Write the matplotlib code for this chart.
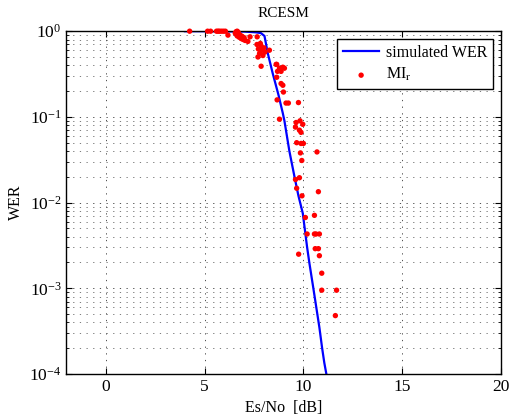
import numpy as np
import matplotlib
matplotlib.use("Agg")
import matplotlib.pyplot as plt

plt.rcParams['font.family'] = ['Liberation Serif', 'DejaVu Serif']
plt.rcParams['mathtext.fontset'] = 'stix'
plt.rcParams['font.size'] = 11.5

# Simulated word error rate
sim_snr = [4.0, 5.0, 6.0, 7.0, 7.6, 7.85, 8.03, 8.2, 8.45, 8.74, 8.96, 9.04,
           9.29, 9.55, 9.75, 9.97, 10.19, 10.3, 10.52, 10.81, 10.95, 11.06, 11.2]
sim_wer = [1.0, 0.999, 0.995, 0.99, 0.97, 0.95, 0.88, 0.55, 0.32, 0.18, 0.11, 0.09,
           0.04, 0.02, 0.012, 0.0075, 0.003, 0.002, 0.00095, 0.00035, 0.0002,
           0.000135, 0.00009]

# WER predicted from mutual information
mi_snr = [4.24, 5.15, 5.3, 5.6, 5.68, 5.75, 5.85, 5.95, 6.05, 6.65,
          6.18, 6.55, 6.6, 6.65, 6.7, 6.75, 6.8, 6.85, 6.9, 6.95, 7.0, 7.05,
          6.7, 6.6, 7.19, 7.3, 7.66,
          7.65, 7.72, 7.78, 7.85, 7.9, 7.95, 8.0, 7.7, 7.82, 8.05, 8.28, 7.86,
          8.62, 8.65, 8.79, 8.96, 9.04, 8.69, 8.87, 8.65, 8.87, 8.96, 8.99,
          8.67, 9.12, 9.24, 9.75, 8.79,
          9.63, 9.83, 9.97, 9.6, 9.8, 9.88, 9.66, 9.88, 10.0, 10.69, 9.85,
          9.92, 9.8, 9.6, 9.66, 10.76, 9.93, 10.1, 10.56, 10.19, 10.56,
          10.64, 10.81, 10.6, 10.76, 9.76, 10.81, 10.93, 10.93, 11.68, 11.62]
mi_wer = [1.0, 1.0, 1.0, 1.0, 1.0, 1.0, 1.0, 1.0, 1.0, 1.0,
          0.90, 0.95, 0.92, 0.88, 0.93, 0.85, 0.90, 0.82, 0.87, 0.80, 0.84, 0.78,
          0.97, 0.99, 0.76, 0.86, 0.86,
          0.70, 0.62, 0.55, 0.68, 0.60, 0.52, 0.64, 0.50, 0.72, 0.57, 0.60, 0.39,
          0.41, 0.41, 0.37, 0.38, 0.37, 0.34, 0.34, 0.29, 0.245, 0.234, 0.195,
          0.158, 0.145, 0.145, 0.147, 0.094,
          0.086, 0.090, 0.082, 0.076, 0.070, 0.066, 0.050, 0.049, 0.049, 0.039, 0.038,
          0.031, 0.0195, 0.0186, 0.0147, 0.0134, 0.012, 0.0067, 0.0071, 0.0043, 0.0043,
          0.0043, 0.0043, 0.0029, 0.0029, 0.0025, 0.0024, 0.0015, 0.00095, 0.00095, 0.00048]

fig = plt.figure(figsize=(5.19, 4.16), dpi=100)
ax = fig.add_axes([0.128, 0.101, 0.837, 0.824])

ax.semilogy(sim_snr, sim_wer, color='#0000ff', lw=1.6, label='simulated WER')
ax.scatter(mi_snr, mi_wer, s=15, color='#ff0000', edgecolors='none',
           clip_on=False, zorder=3, label=r'MI$_\mathrm{r}$')

ax.set_xlim(-2, 20)
ax.set_ylim(1e-4, 1)
ax.set_xticks([0, 5, 10, 15, 20])
ax.set_yticks([1e-4, 1e-3, 1e-2, 1e-1, 1])

ax.grid(True, which='major', linestyle=(0, (1.5, 6.5)), color='0.2', lw=0.6)
ax.grid(True, which='minor', axis='y', linestyle=(0, (1.5, 6.5)), color='0.4', lw=0.6)
ax.tick_params(which='both', direction='in', top=True, right=True, labelsize=12.5)
ax.tick_params(which='major', length=4)
ax.tick_params(which='minor', length=2)
for sp in ax.spines.values():
    sp.set_linewidth(1.0)

ax.set_title('RCESM', fontsize=11, pad=10)
ax.set_xlabel('Es/No  [dB]')
ax.set_ylabel('WER')

leg = ax.legend(loc='upper right', fancybox=False, edgecolor='black',
                framealpha=1, fontsize=11.5, handlelength=2.3,
                handletextpad=0.4, borderpad=0.35, labelspacing=0.35,
                borderaxespad=0.5)
leg.get_frame().set_linewidth(1.0)

fig.savefig('out.png', dpi=100)
